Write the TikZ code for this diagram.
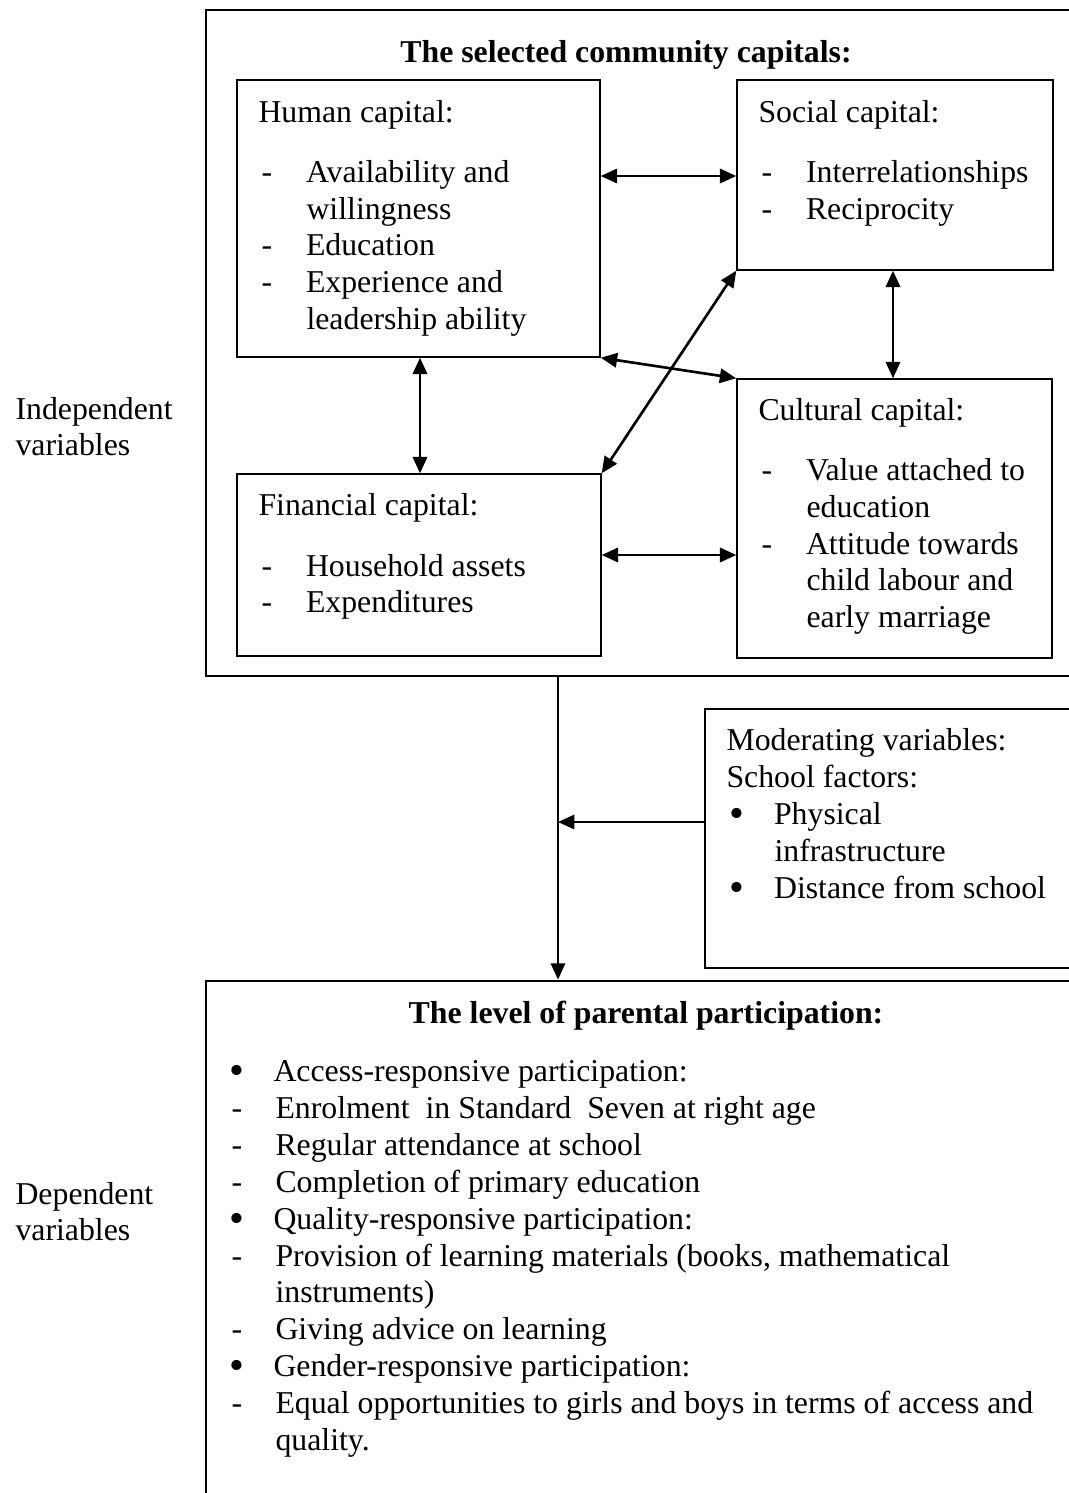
\documentclass[tikz,border=0pt]{standalone}
\usepackage{fontspec}
\setmainfont{Liberation Serif}
\usetikzlibrary{arrows.meta,fit}
\newlength\ind
\setlength\ind{16.8pt}
\newcommand\itm[5]{\node[txt] (#1) at (#2,#3) {\makebox[\ind][l]{#4}#5};}
\newcommand\bul{\raisebox{-1.2pt}{\fontsize{16}{16}\selectfont •}}
\begin{document}
\begin{tikzpicture}[x=0.3774pt,y=-0.3774pt,
  txt/.style={anchor=base west, inner sep=0pt, font=\fontsize{12}{13.8}\selectfont},
  ttl/.style={anchor=base, inner sep=0pt, font=\fontsize{12}{13.8}\selectfont\bfseries},
  box/.style={draw, line width=0.55pt, inner sep=0pt},
  frame/.style={draw, line width=1pt, inner sep=0pt},
  tip/.tip={Triangle[length=6.2pt,width=5.4pt]},
  link/.style={line width=1pt, tip-tip},
  flow/.style={line width=0.9pt, -tip}]
\useasboundingbox (0,0) rectangle (1069,1493);
\clip (0,0) rectangle (1069,1493);
% frames
\node[frame, fit={(206,10) (1120,676)}] (outer) {};
\node[box, fit={(237,80) (600,357)}] (hum) {};
\node[box, fit={(737,80) (1053,270)}] (soc) {};
\node[box, fit={(737,379) (1052,658)}] (cul) {};
\node[box, fit={(237,474) (601,656)}] (fin) {};
\node[box, fit={(705,709) (1120,968)}] (mod) {};
\node[frame, fit={(206,981) (1120,1560)}] (bot) {};
% titles
\node[ttl] (t1) at (626,62) {The selected community capitals:};
\node[ttl] (t2) at (646,1023) {The level of parental participation:};
% side labels
\node[txt] (iv1) at (15,419) {Independent};
\node[txt] (iv2) at (15,455) {variables};
\node[txt] (dv1) at (15,1204) {Dependent};
\node[txt] (dv2) at (15,1240) {variables};
% human capital
\node[txt] (h0) at (258,122) {Human capital:};
\itm{h1}{261}{182}{-}{Availability and}
\node[txt] (h2) at (306,219) {willingness};
\itm{h3}{261}{255}{-}{Education}
\itm{h4}{261}{292}{-}{Experience and}
\node[txt] (h5) at (306,329) {leadership ability};
% social capital
\node[txt] (s0) at (758,122) {Social capital:};
\itm{s1}{761}{182}{-}{Interrelationships}
\itm{s2}{761}{219}{-}{Reciprocity}
% cultural capital
\node[txt] (c0) at (758,420) {Cultural capital:};
\itm{c1}{761}{480}{-}{Value attached to}
\node[txt] (c2) at (806,517) {education};
\itm{c3}{761}{554}{-}{Attitude towards}
\node[txt] (c4) at (806,590) {child labour and};
\node[txt] (c5) at (806,627) {early marriage};
% financial capital
\node[txt] (f0) at (258,515) {Financial capital:};
\itm{f1}{261}{576}{-}{Household assets}
\itm{f2}{261}{612}{-}{Expenditures}
% moderating
\node[txt] (m0) at (726,750) {Moderating variables:};
\node[txt] (m1) at (726,787) {School factors:};
\itm{m2}{729}{824}{\bul}{Physical}
\node[txt] (m3) at (774,861) {infrastructure};
\itm{m4}{729}{898}{\bul}{Distance from school}
% dependent list
\setlength\ind{16.6pt}
\itm{b1}{229}{1081}{\bul}{Access-responsive participation:}
\itm{b2}{231}{1118}{-}{Enrolment\ \ in Standard\ \ Seven at right age}
\itm{b3}{231}{1155}{-}{Regular attendance at school}
\itm{b4}{231}{1192}{-}{Completion of primary education}
\itm{b5}{229}{1229}{\bul}{Quality-responsive participation:}
\itm{b6}{231}{1266}{-}{Provision of learning materials (books, mathematical}
\node[txt] (b7) at (275,1302) {instruments)};
\itm{b8}{231}{1339}{-}{Giving advice on learning}
\itm{b9}{229}{1376}{\bul}{Gender-responsive participation:}
\itm{b10}{231}{1413}{-}{Equal opportunities to girls and boys in terms of access and}
\node[txt] (b11) at (275,1450) {quality.};
% connectors
\draw[link] (hum.east |- 0,176) -- (soc.west |- 0,176);
\draw[link] (hum.south -| 420,0) -- (fin.north -| 420,0);
\draw[link] (soc.south -| 893,0) -- (cul.north -| 893,0);
\draw[link] (hum.south east) -- (cul.north west);
\draw[link] (fin.north east) -- (soc.south west);
\draw[link] (fin.east |- 0,555) -- (cul.west |- 0,555);
\coordinate (join) at (558,822);
\draw[flow] (outer.south -| join) -- (bot.north -| join);
\draw[flow] (mod.west |- join) -- (join);
\end{tikzpicture}
\end{document}
